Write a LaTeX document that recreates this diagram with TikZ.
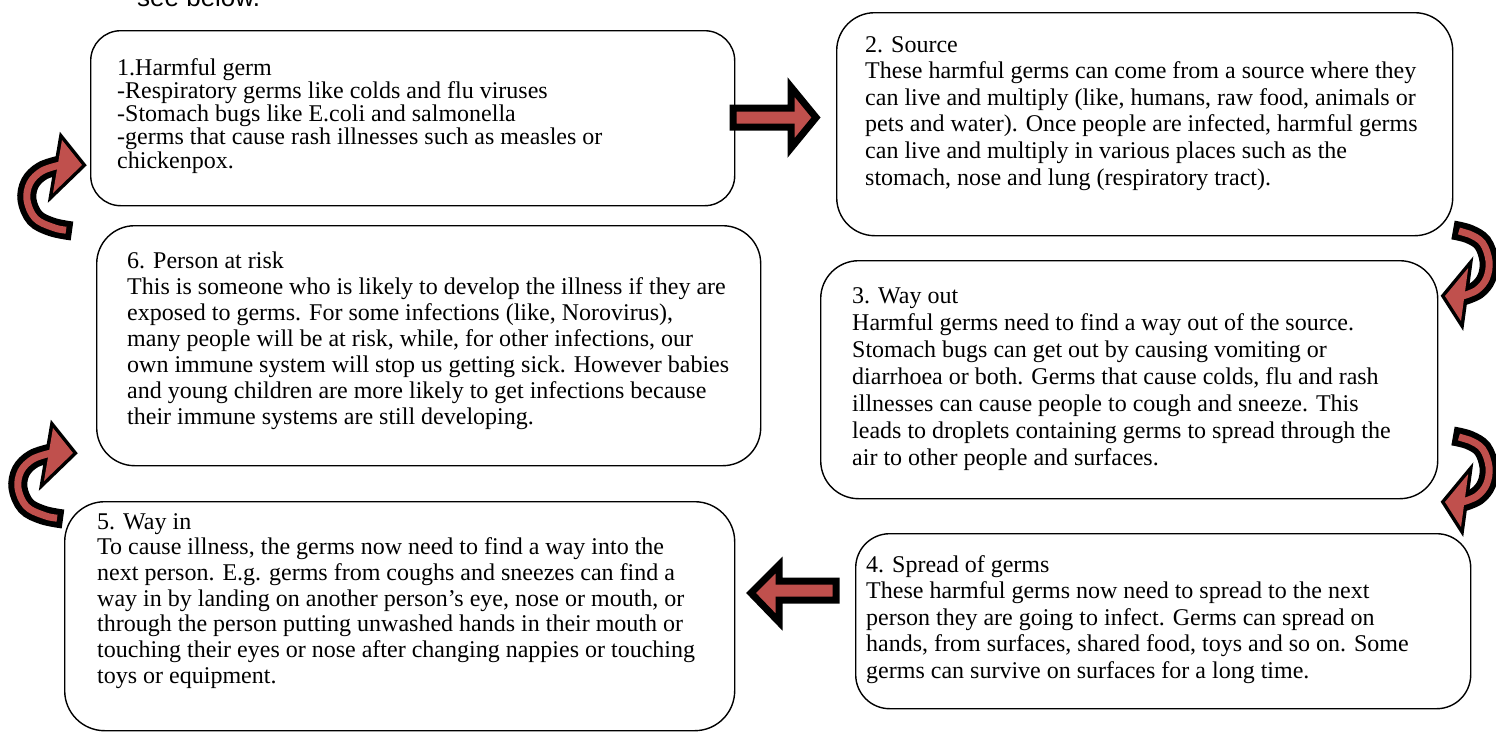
\documentclass[tikz,border=0pt]{standalone}
\usepackage{fontspec}
\setmainfont{Liberation Serif}
\newfontfamily\arialfont{Liberation Sans}
\definecolor{arrowred}{HTML}{C0504D}
\newcommand\boxtext[2]{\parbox[t]{720pt}{\fontsize{24}{#1}\selectfont\raggedright #2}}
\tikzset{
  box/.style={draw=black, line width=1.4pt, rounded corners=#1, anchor=north west, inner sep=0pt},
  box/.default=32pt,
  txt/.style={anchor=base west, inner sep=0pt},
  blockarrow/.style={draw=black, fill=arrowred, line width=7pt, line join=miter},
  curvarrow/.pic={
    \draw[line width=19pt, black] plot[smooth, tension=0.6] coordinates {(-10,66) (-30,62) (-47,53) (-55,35) (-52,18) (-40,6) (-22,0)};
    \filldraw[line width=7pt, line join=miter, draw=black, fill=black] (-20,-25) -- (0,0) -- (-29,28) -- cycle;
    \draw[line width=7pt, arrowred, shorten <=6pt] plot[smooth, tension=0.6] coordinates {(-10,66) (-30,62) (-47,53) (-55,35) (-52,18) (-40,6) (-22,0)};
    \fill[arrowred] (-20,-25) -- (0,0) -- (-29,28) -- cycle;
  }
}
\begin{document}
\begin{tikzpicture}[x=1pt,y=-1pt]
\useasboundingbox (0,0) rectangle (1496,731);

% text cut at top
\node[txt] (see) at (137,6) {\arialfont\fontsize{26}{30}\selectfont see below.};

% boxes
\node[box=30pt, minimum width=644pt, minimum height=175pt] (b1) at (90,30) {};
\node[box=38pt, minimum width=616pt, minimum height=223pt] (b2) at (836,12) {};
\node[box=38pt, minimum width=664pt, minimum height=240pt] (b6) at (96,225) {};
\node[box=38pt, minimum width=617pt, minimum height=238pt] (b3) at (820,260) {};
\node[box=40pt, minimum width=670pt, minimum height=229pt] (b5) at (64,501) {};
\node[box=34pt, minimum width=615pt, minimum height=175pt] (b4) at (855,533) {};

% texts
\node[txt] (t1) at (117,75) {\boxtext{23.3pt}{1.Harmful germ\\
-Respiratory germs like colds and flu viruses\\
-Stomach bugs like E.coli and salmonella\\
-germs that cause rash illnesses such as measles or\\
chickenpox.}};

\node[txt] (t2) at (865,52) {\boxtext{26.6pt}{2. Source\\
These harmful germs can come from a source where they\\
can live and multiply (like, humans, raw food, animals or\\
pets and water). Once people are infected, harmful germs\\
can live and multiply in various places such as the\\
stomach, nose and lung (respiratory tract).}};

\node[txt] (t6) at (127,268) {\boxtext{26pt}{6. Person at risk\\
This is someone who is likely to develop the illness if they are\\
exposed to germs. For some infections (like, Norovirus),\\
many people will be at risk, while, for other infections, our\\
own immune system will stop us getting sick. However babies\\
and young children are more likely to get infections because\\
their immune systems are still developing.}};

\node[txt] (t3) at (852,303) {\boxtext{27pt}{3. Way out\\
Harmful germs need to find a way out of the source.\\
Stomach bugs can get out by causing vomiting or\\
diarrhoea or both. Germs that cause colds, flu and rash\\
illnesses can cause people to cough and sneeze. This\\
leads to droplets containing germs to spread through the\\
air to other people and surfaces.}};

\node[txt] (t5) at (97,529) {\boxtext{25.7pt}{5. Way in\\
To cause illness, the germs now need to find a way into the\\
next person. E.g. germs from coughs and sneezes can find a\\
way in by landing on another person’s eye, nose or mouth, or\\
through the person putting unwashed hands in their mouth or\\
touching their eyes or nose after changing nappies or touching\\
toys or equipment.}};

\node[txt] (t4) at (866,572) {\boxtext{26.5pt}{4. Spread of germs\\
These harmful germs now need to spread to the next\\
person they are going to infect. Germs can spread on\\
hands, from surfaces, shared food, toys and so on. Some\\
germs can survive on surfaces for a long time.}};

% straight block arrows
\draw[blockarrow] (733,108) -- (791,108) -- (791,87) -- (816,117.5) -- (791,148) -- (791,127) -- (733,127) -- cycle;
\draw[blockarrow] (836,581) -- (779,581) -- (779,565) -- (751,593) -- (779,622) -- (779,600) -- (836,600) -- cycle;

% curved arrows
\pic at (82,165) {curvarrow};
\pic at (73,453) {curvarrow};
\pic[rotate=180, xscale=0.8] at (1445,296) {curvarrow};
\pic[rotate=180, xscale=0.8] at (1445,502) {curvarrow};
\end{tikzpicture}
\end{document}
